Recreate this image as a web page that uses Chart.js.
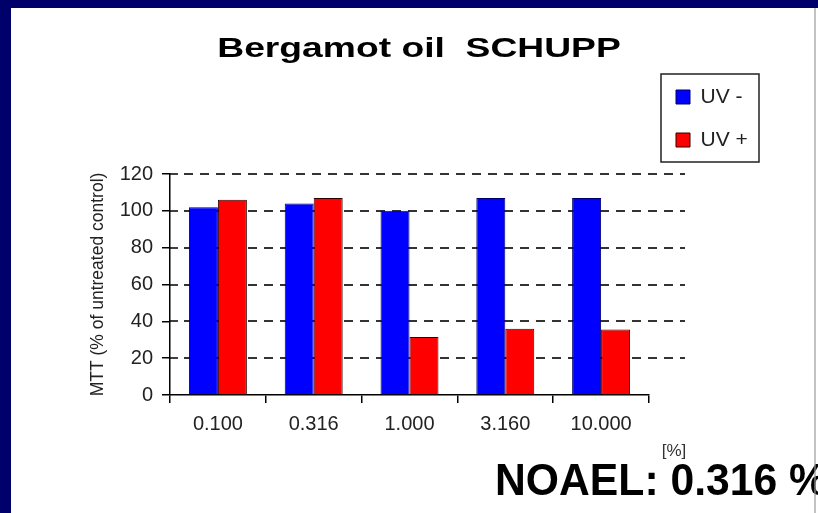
<!DOCTYPE html>
<html>
<head>
<meta charset="utf-8">
<title>Bergamot oil SCHUPP</title>
<script src="https://cdn.jsdelivr.net/npm/chart.js@4.4.0/dist/chart.umd.min.js"></script>
<style>
  html, body { margin: 0; padding: 0; background: #fff; }
  #wrap { position: relative; width: 818px; height: 513px; overflow: hidden; background: #fff;
          font-family: 'Liberation Sans', Arial, sans-serif; }
  #myChart { position: absolute; left: 0; top: 0; }
  .frame { position: absolute; background: #00006b; }
  #title { position: absolute; left: 419px; top: 34px; font-weight: bold; font-size: 28px; line-height: 28px;
           color: #000; white-space: nowrap; transform: translateX(-50%) scaleX(1.33); }
  #unit { position: absolute; left: 674px; top: 442px; font-size: 17px; line-height: 17px; color: #333;
          white-space: nowrap; transform: translateX(-50%); }
  #noael { position: absolute; left: 495px; top: 458px; font-weight: bold; font-size: 44px; line-height: 44px;
           color: #000; white-space: nowrap; transform-origin: left center; transform: scaleX(0.97); }
</style>
</head>
<body>
<div id="wrap">
  <canvas id="myChart" width="818" height="513"></canvas>
  <div class="frame" style="left:0;top:0;width:818px;height:8px;"></div>
  <div class="frame" style="left:0;top:0;width:11px;height:513px;"></div>
  <div id="title">Bergamot oil&nbsp; SCHUPP</div>
  <div id="unit">[%]</div>
  <div id="noael">NOAEL: 0.316 %</div>
  <div class="frame" style="left:814px;top:8px;width:2px;height:505px;background:#9a9a9a;opacity:0.6;"></div>
</div>
<script>
// concentrations tested
const categories = ['0.100', '0.316', '1.000', '3.160', '10.000'];
// MTT viability, % of untreated control
const uvMinus = [102, 104, 100, 107, 107];
const uvPlus = [106, 107, 31.5, 36, 35.5];
const yTicks = [0, 20, 40, 60, 80, 100, 120];

Chart.defaults.font.family = "'Liberation Sans', Arial, sans-serif";

// legend frame sits above the plot, right of it
const legendFrameBox = { x: 661, y: 74, w: 98, h: 88 };

const dashedGrid = {
  id: 'dashedGrid',
  beforeDatasetsDraw(chart) {
    const {ctx, chartArea, scales: {y}} = chart;
    ctx.save();
    y.ticks.forEach(t => {
      if (t.value === 0) return;
      const py = Math.round(y.getPixelForValue(t.value));
      // inner half of the cross tick
      ctx.setLineDash([]);
      ctx.strokeStyle = '#000';
      ctx.lineWidth = 1.5;
      ctx.beginPath();
      ctx.moveTo(chartArea.left, py);
      ctx.lineTo(chartArea.left + 8, py);
      ctx.stroke();
      // dashed gridline, runs past the x axis end
      ctx.setLineDash([9, 7]);
      ctx.strokeStyle = '#333';
      ctx.lineWidth = 2;
      ctx.beginPath();
      ctx.moveTo(chartArea.left + 14, py);
      ctx.lineTo(chartArea.right + 36, py);
      ctx.stroke();
    });
    ctx.restore();
  }
};

const legendFrame = {
  id: 'legendFrame',
  afterLayout(chart) {
    const lg = chart.legend;
    lg.left = legendFrameBox.x - 7;
    lg.top = legendFrameBox.y - 9.5;
    lg.width = 120;
    lg.height = 110;
    lg.right = lg.left + lg.width;
    lg.bottom = lg.top + lg.height;
  },
  afterDraw(chart) {
    const ctx = chart.ctx;
    ctx.save();
    ctx.strokeStyle = '#222';
    ctx.lineWidth = 1.5;
    ctx.strokeRect(legendFrameBox.x, legendFrameBox.y, legendFrameBox.w, legendFrameBox.h);
    ctx.restore();
  }
};

const data = {
  labels: categories,
  datasets: [{
    label: 'UV -',
    data: uvMinus,
    backgroundColor: '#0000ff',
    borderColor: '#00006a',
    borderWidth: 1,
    categoryPercentage: 0.605,
    barPercentage: 1
  }, {
    label: 'UV +',
    data: uvPlus,
    backgroundColor: '#ff0000',
    borderColor: '#300000',
    borderWidth: 1,
    categoryPercentage: 0.605,
    barPercentage: 1
  }]
};

const config = {
  type: 'bar',
  data: data,
  plugins: [dashedGrid, legendFrame],
  options: {
    responsive: false,
    animation: false,
    layout: { padding: { left: 80, right: 168, top: 174, bottom: 58 } },
    plugins: {
      legend: {
        position: 'right',
        align: 'start',
        maxWidth: 1,
        labels: { boxWidth: 14, boxHeight: 14, padding: 22, color: '#222', font: { size: 21 } }
      },
      tooltip: { enabled: false }
    },
    scales: {
      x: {
        grid: { offset: true, drawOnChartArea: false, tickLength: 8, color: '#000', lineWidth: 1.5 },
        border: { color: '#000', width: 1.5 },
        ticks: { padding: 9, color: '#222', font: { size: 20 }, maxRotation: 0 },
        afterFit(s) { s.height = 60; }
      },
      y: {
        min: 0,
        max: 120,
        afterBuildTicks(s) { s.ticks = yTicks.map(v => ({ value: v })); },
        grid: { drawOnChartArea: false, tickLength: 8, color: '#000', lineWidth: 1.5 },
        border: { color: '#000', width: 1.5 },
        ticks: { padding: 9, color: '#222', font: { size: 20 } },
        title: {
          display: true,
          text: 'MTT (% of untreated control)',
          color: '#222',
          font: { size: 17.5 },
          padding: { top: 7.5, bottom: 0 }
        },
        afterFit(s) { s.width = 90; }
      }
    }
  }
};

const myChart = new Chart(document.getElementById('myChart'), config);
</script>
</body>
</html>
